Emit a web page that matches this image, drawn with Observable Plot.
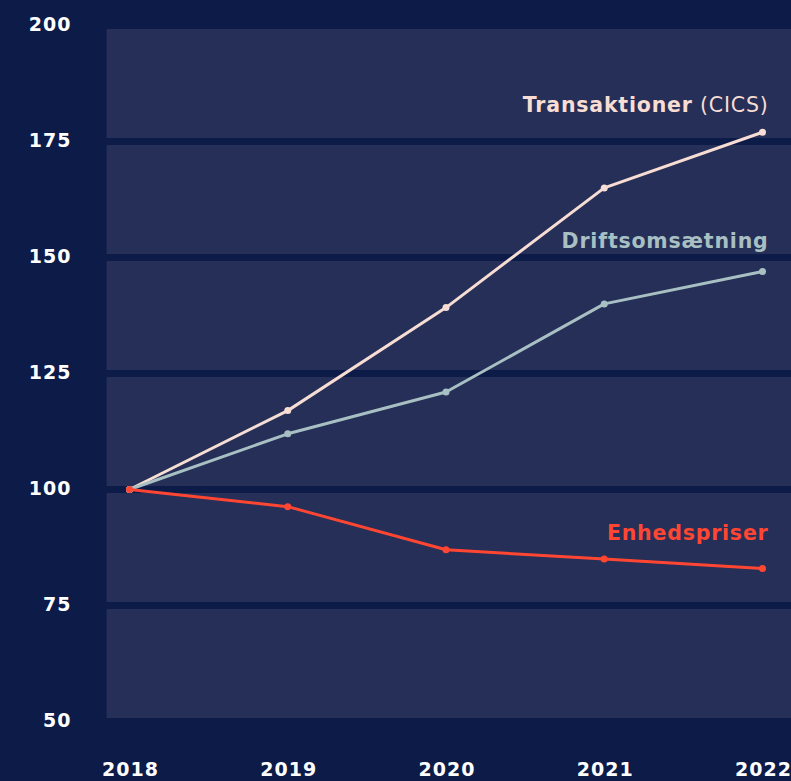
<!DOCTYPE html>
<html>
<head>
<meta charset="utf-8">
<script src="https://cdn.jsdelivr.net/npm/d3@7"></script>
<script src="https://cdn.jsdelivr.net/npm/@observablehq/plot@0.6"></script>
<style>
  html, body { margin: 0; padding: 0; background: #0c1b48; }
  #chart svg { display: block; }
  #chart g[aria-label="y-axis tick label"] text,
  #chart g[aria-label="x-axis tick label"] text { letter-spacing: 1px; }
  #chart g.series-label text { letter-spacing: 0.8px; }
</style>
</head>
<body>
<div id="chart"></div>
<script>
const years = [2018, 2019, 2020, 2021, 2022];
const transaktioner = [100, 117, 139.2, 165, 177];
const drift = [100, 112, 121, 140, 147];
const enhedspriser = [100, 96.3, 87, 85, 83];
const yTicks = [50, 75, 100, 125, 150, 175, 200];

const seriesNames = ["Transaktioner", "Driftsomsætning", "Enhedspriser"];
const seriesValues = [transaktioner, drift, enhedspriser];
const seriesColors = ["#f7ddd3", "#a8c0c3", "#ff4632"];
const labelText = ["Transaktioner (CICS)", "Driftsomsætning", "Enhedspriser"];

const data = seriesNames.flatMap((s, i) => years.map((yr, j) => ({series: s, year: yr, value: seriesValues[i][j]})));
const last = seriesNames.map((s, i) => ({series: s, year: years[years.length - 1], value: seriesValues[i][years.length - 1], label: labelText[i]}));

const BG = "#0c1b48";
const PANEL = "#252f57";
const FONT = "DejaVu Sans, sans-serif";

const chart = Plot.plot({
  width: 791,
  height: 781,
  marginLeft: 106,
  marginRight: 0,
  marginTop: 25,
  marginBottom: 60,
  style: {background: BG, fontFamily: FONT, color: "#ffffff"},
  x: {domain: [2018, 2022], range: [129, 762]},
  y: {domain: [50, 200]},
  color: {domain: seriesNames, range: seriesColors},
  marks: [
    Plot.frame({fill: PANEL, stroke: null}),
    Plot.ruleY(yTicks, {stroke: BG, strokeWidth: 7}),
    Plot.axisY({ticks: yTicks, tickSize: 0, tickPadding: 35, fontSize: 19, fontWeight: "bold", fill: "#ffffff", label: null, dy: -1}),
    Plot.axisX({ticks: years, tickFormat: d => String(d), tickSize: 0, tickPadding: 41, fontSize: 19, fontWeight: "bold", fill: "#ffffff", label: null, dx: 1}),
    Plot.line(data, {x: "year", y: "value", z: "series", stroke: "series", strokeWidth: 3}),
    Plot.dot(data, {x: "year", y: "value", fill: "series", r: 3.5}),
    Plot.text(last.filter(d => d.series === "Transaktioner"), {x: "year", y: "value", text: "label", fill: "series", textAnchor: "end", dx: 6, dy: -27, fontSize: 20.5, fontWeight: "bold", className: "series-label lbl-trans"}),
    Plot.text(last.filter(d => d.series === "Driftsomsætning"), {x: "year", y: "value", text: "label", fill: "series", textAnchor: "end", dx: 6, dy: -30, fontSize: 20.5, fontWeight: "bold", className: "series-label"}),
    Plot.text(last.filter(d => d.series === "Enhedspriser"), {x: "year", y: "value", text: "label", fill: "series", textAnchor: "end", dx: 6, dy: -35, fontSize: 20.5, fontWeight: "bold", className: "series-label"})
  ]
});

// split "Transaktioner (CICS)" into bold + regular parts
d3.select(chart).selectAll("g.lbl-trans text").each(function() {
  const t = d3.select(this);
  const full = t.text();
  const idx = full.indexOf(" (");
  if (idx > 0) {
    t.text(null);
    t.append("tspan").text(full.slice(0, idx)).attr("font-weight", "bold");
    t.append("tspan").text(full.slice(idx)).attr("font-weight", "normal");
  }
});

document.getElementById("chart").appendChild(chart);
</script>
</body>
</html>
